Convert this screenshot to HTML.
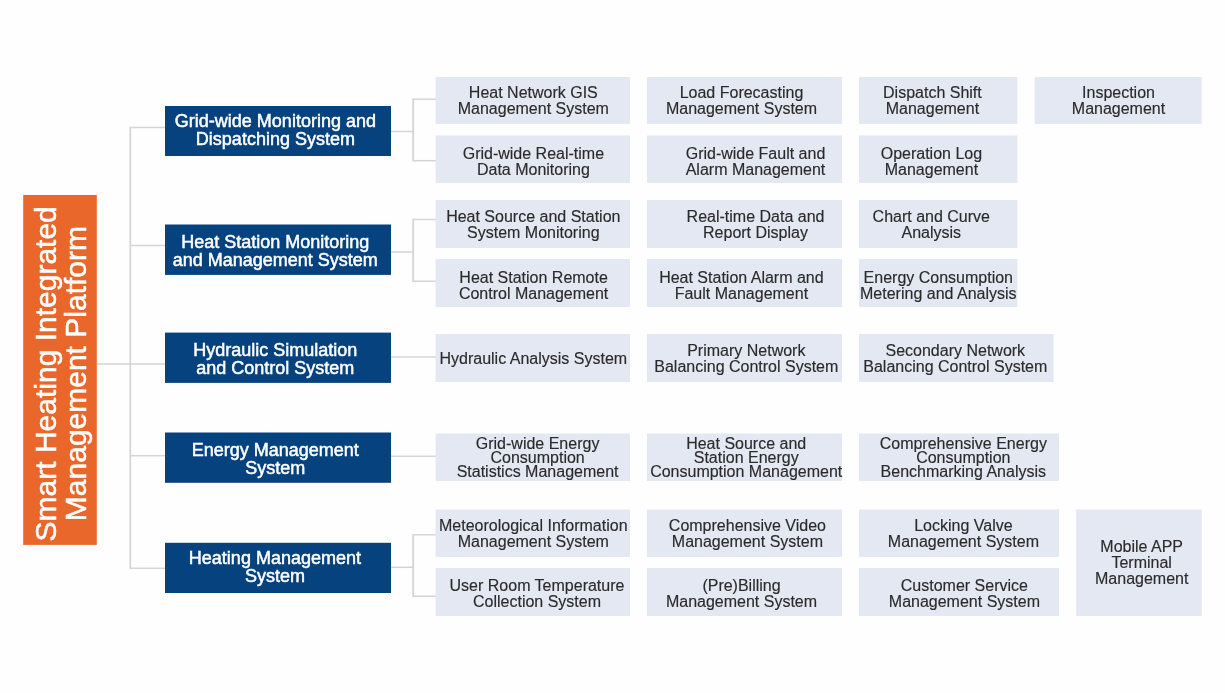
<!DOCTYPE html>
<html lang="en">
<head>
<meta charset="utf-8">
<title>Smart Heating Integrated Management Platform</title>
<style>
html,body{margin:0;padding:0;background:#fefefe;}
body{width:1225px;height:693px;overflow:hidden;}
svg{display:block;will-change:transform;}
text{font-family:"Liberation Sans",Arial,sans-serif;text-anchor:middle;}
.sub text{font-size:16px;fill:#2b2b2b;stroke:#2b2b2b;stroke-width:0.15px;}
.sys text{font-size:18px;fill:#ffffff;stroke:#ffffff;stroke-width:0.5px;}
.root text{font-size:30px;fill:#ffffff;stroke:#ffffff;stroke-width:0.5px;}
.wire line{stroke:#d5d5d5;stroke-width:1.5;}
.wire line.v{stroke-width:1.8;}
</style>
</head>
<body>
<svg width="1225" height="693" viewBox="0 0 1225 693">
<rect x="0" y="0" width="1225" height="693" fill="#fefefe"/>
<g class="wire">
<line class="v" x1="130.3" y1="126.7" x2="130.3" y2="569"/>
<line x1="97" y1="364.1" x2="165" y2="364.1"/>
<line x1="130.3" y1="127.5" x2="165" y2="127.5"/>
<line x1="130.3" y1="245.4" x2="165" y2="245.4"/>
<line x1="130.3" y1="455.7" x2="165" y2="455.7"/>
<line x1="130.3" y1="568.2" x2="165" y2="568.2"/>
<line x1="391" y1="131.5" x2="413.2" y2="131.5"/>
<line class="v" x1="413.2" y1="98.4" x2="413.2" y2="161.5"/>
<line x1="413.2" y1="99.2" x2="436" y2="99.2"/>
<line x1="413.2" y1="160.7" x2="436" y2="160.7"/>
<line x1="391" y1="252" x2="413.2" y2="252"/>
<line class="v" x1="413.2" y1="218.7" x2="413.2" y2="282.1"/>
<line x1="413.2" y1="219.5" x2="436" y2="219.5"/>
<line x1="413.2" y1="281.3" x2="436" y2="281.3"/>
<line x1="391" y1="567.3" x2="413.2" y2="567.3"/>
<line class="v" x1="413.2" y1="534.0" x2="413.2" y2="597.1"/>
<line x1="413.2" y1="534.8" x2="436" y2="534.8"/>
<line x1="413.2" y1="596.3" x2="436" y2="596.3"/>
<line x1="391" y1="357" x2="436" y2="357"/>
<line x1="391" y1="456.2" x2="436" y2="456.2"/>
</g>
<g class="root">
<rect x="23.2" y="195" width="73.6" height="349.9" fill="#e9672a"/>
<text transform="translate(55.9 373.8) rotate(-90)">Smart Heating Integrated</text>
<text transform="translate(85.9 373.6) rotate(-90)">Management Platform</text>
</g>
<g class="sys">
<rect x="165" y="106" width="226" height="50" fill="#06427d"/>
<text x="275.4" y="127">Grid-wide Monitoring and</text>
<text x="275.4" y="145">Dispatching System</text>
<rect x="165" y="224.5" width="226" height="50.4" fill="#06427d"/>
<text x="275.3" y="248">Heat Station Monitoring</text>
<text x="275.3" y="266">and Management System</text>
<rect x="165" y="332.6" width="226" height="50.3" fill="#06427d"/>
<text x="275.3" y="356">Hydraulic Simulation</text>
<text x="275.3" y="374">and Control System</text>
<rect x="165" y="432.5" width="226" height="50.3" fill="#06427d"/>
<text x="275.3" y="456">Energy Management</text>
<text x="275.3" y="474">System</text>
<rect x="165" y="542.8" width="226" height="50.2" fill="#06427d"/>
<text x="274.9" y="564">Heating Management</text>
<text x="274.9" y="582">System</text>
</g>
<g class="sub">
<rect x="435.6" y="77" width="194.4" height="46.9" fill="#e4e8f2"/>
<text x="533.3" y="98">Heat Network GIS</text>
<text x="533.3" y="114">Management System</text>
<rect x="435.6" y="135.5" width="194.4" height="47.5" fill="#e4e8f2"/>
<text x="533.4" y="159">Grid-wide Real-time</text>
<text x="533.4" y="175">Data Monitoring</text>
<rect x="435.6" y="200" width="194.4" height="48" fill="#e4e8f2"/>
<text x="533.3" y="221.6">Heat Source and Station</text>
<text x="533.3" y="237.6">System Monitoring</text>
<rect x="435.6" y="259" width="194.4" height="48" fill="#e4e8f2"/>
<text x="533.6" y="282.6">Heat Station Remote</text>
<text x="533.6" y="298.6">Control Management</text>
<rect x="435.6" y="334" width="194.4" height="48" fill="#e4e8f2"/>
<text x="533.3" y="364">Hydraulic Analysis System</text>
<rect x="435.6" y="433.5" width="194.4" height="47.5" fill="#e4e8f2"/>
<text x="537.6" y="448.6">Grid-wide Energy</text>
<text x="537.6" y="462.6">Consumption</text>
<text x="537.6" y="476.6">Statistics Management</text>
<rect x="435.6" y="509.5" width="194.4" height="47.5" fill="#e4e8f2"/>
<text x="533.3" y="530.6">Meteorological Information</text>
<text x="533.3" y="546.6">Management System</text>
<rect x="435.6" y="568" width="194.4" height="48" fill="#e4e8f2"/>
<text x="537.0" y="590.6">User Room Temperature</text>
<text x="537.0" y="606.6">Collection System</text>
<rect x="647" y="77" width="195" height="46.9" fill="#e4e8f2"/>
<text x="741.5" y="98">Load Forecasting</text>
<text x="741.5" y="114">Management System</text>
<rect x="647" y="135.5" width="195" height="47.5" fill="#e4e8f2"/>
<text x="755.5" y="159">Grid-wide Fault and</text>
<text x="755.5" y="175">Alarm Management</text>
<rect x="647" y="200" width="195" height="48" fill="#e4e8f2"/>
<text x="755.5" y="221.6">Real-time Data and</text>
<text x="755.5" y="237.6">Report Display</text>
<rect x="647" y="259" width="195" height="48" fill="#e4e8f2"/>
<text x="741.4" y="282.6">Heat Station Alarm and</text>
<text x="741.4" y="298.6">Fault Management</text>
<rect x="647" y="334" width="195" height="48" fill="#e4e8f2"/>
<text x="746.3" y="356">Primary Network</text>
<text x="746.3" y="372">Balancing Control System</text>
<rect x="647" y="433.5" width="195" height="47.5" fill="#e4e8f2"/>
<text x="746.2" y="448.6">Heat Source and</text>
<text x="746.2" y="462.6">Station Energy</text>
<text x="746.2" y="476.6">Consumption Management</text>
<rect x="647" y="509.5" width="195" height="47.5" fill="#e4e8f2"/>
<text x="747.4" y="530.6">Comprehensive Video</text>
<text x="747.4" y="546.6">Management System</text>
<rect x="647" y="568" width="195" height="48" fill="#e4e8f2"/>
<text x="741.5" y="590.6">(Pre)Billing</text>
<text x="741.5" y="606.6">Management System</text>
<rect x="859" y="77" width="158.4" height="46.9" fill="#e4e8f2"/>
<text x="932.4" y="98">Dispatch Shift</text>
<text x="932.4" y="114">Management</text>
<rect x="859" y="135.5" width="158.4" height="47.5" fill="#e4e8f2"/>
<text x="931.4" y="159">Operation Log</text>
<text x="931.4" y="175">Management</text>
<rect x="859" y="200" width="158.4" height="48" fill="#e4e8f2"/>
<text x="931.3" y="221.6">Chart and Curve</text>
<text x="931.3" y="237.6">Analysis</text>
<rect x="859" y="259" width="158.4" height="48" fill="#e4e8f2"/>
<text x="938.3" y="282.6">Energy Consumption</text>
<text x="938.3" y="298.6">Metering and Analysis</text>
<rect x="859" y="334" width="194.5" height="48" fill="#e4e8f2"/>
<text x="955.3" y="356">Secondary Network</text>
<text x="955.3" y="372">Balancing Control System</text>
<rect x="859" y="433.5" width="200" height="47.5" fill="#e4e8f2"/>
<text x="963.3" y="448.6">Comprehensive Energy</text>
<text x="963.3" y="462.6">Consumption</text>
<text x="963.3" y="476.6">Benchmarking Analysis</text>
<rect x="859" y="509.5" width="200" height="47.5" fill="#e4e8f2"/>
<text x="963.4" y="530.6">Locking Valve</text>
<text x="963.4" y="546.6">Management System</text>
<rect x="859" y="568" width="200" height="48" fill="#e4e8f2"/>
<text x="964.4" y="590.6">Customer Service</text>
<text x="964.4" y="606.6">Management System</text>
<rect x="1034.7" y="77" width="167" height="46.9" fill="#e4e8f2"/>
<text x="1118.5" y="98">Inspection</text>
<text x="1118.5" y="114">Management</text>
<rect x="1076.2" y="509.5" width="125.6" height="106.5" fill="#e4e8f2"/>
<text x="1141.7" y="551.6">Mobile APP</text>
<text x="1141.7" y="567.6">Terminal</text>
<text x="1141.7" y="583.6">Management</text>
</g>
</svg>
</body>
</html>
